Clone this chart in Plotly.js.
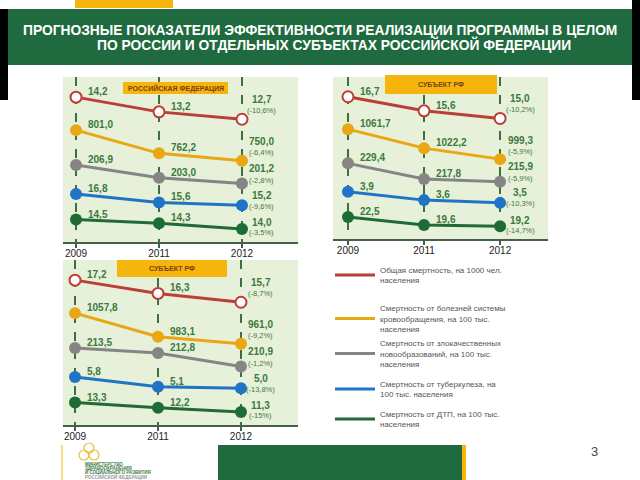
<!DOCTYPE html>
<html><head><meta charset="utf-8">
<script src="https://cdn.plot.ly/plotly-3.0.1.min.js"></script>
<style>html,body{margin:0;padding:0;background:#fff}#chart{width:640px;height:480px}</style>
</head><body><div id="chart"></div>
<script>
// ---------- DATA ----------
const years = ['2009', '2011', '2012'];
const seriesNames = [
  'Общая смертность, на 1000 чел.<br>населения',
  'Смертность от болезней системы<br>кровообращения, на 100 тыс.<br>населения',
  'Смертность от злокачественных<br>новообразований, на 100 тыс.<br>населения',
  'Смертность от туберкулеза, на<br>100 тыс. населения',
  'Смертность от ДТП, на 100 тыс.<br>населения'
];
const panelTitles = ['РОССИЙСКАЯ ФЕДЕРАЦИЯ', 'СУБЪЕКТ РФ', 'СУБЪЕКТ РФ'];

// Panel 1: Российская Федерация
const rfMortality    = [14.2, 13.2, 12.7];
const rfCirculatory  = [801.0, 762.2, 750.0];
const rfCancer       = [206.9, 203.0, 201.2];
const rfTuberculosis = [16.8, 15.6, 15.2];
const rfRoad         = [14.5, 14.3, 14.0];
const rfChange = ['(-10,6%)', '(-6,4%)', '(-2,8%)', '(-9,6%)', '(-3,5%)'];

// Panel 2: Субъект РФ
const s1Mortality    = [16.7, 15.6, 15.0];
const s1Circulatory  = [1061.7, 1022.2, 999.3];
const s1Cancer       = [229.4, 217.8, 215.9];
const s1Tuberculosis = [3.9, 3.6, 3.5];
const s1Road         = [22.5, 19.6, 19.2];
const s1Change = ['(-10,2%)', '(-5,9%)', '(-5,9%)', '(-10,3%)', '(-14,7%)'];

// Panel 3: Субъект РФ
const s2Mortality    = [17.2, 16.3, 15.7];
const s2Circulatory  = [1057.8, 983.1, 961.0];
const s2Cancer       = [213.5, 212.8, 210.9];
const s2Tuberculosis = [5.8, 5.1, 5.0];
const s2Road         = [13.3, 12.2, 11.3];
const s2Change = ['(-8,7%)', '(-9,2%)', '(-1,2%)', '(-13,8%)', '(-15%)'];

// ---------- STYLE / LAYOUT ----------
const W = 640, H = 480;
const FONT = 'Liberation Sans, Arial, sans-serif';
const colors = ['#bb3f37', '#e8a713', '#858585', '#1f74c6', '#1f6b36'];
const labelColor = '#3b7a3f';
const bgPanel = '#e7f0d9';
const green = '#1f6b3f';
const yellow = '#f5b50d';
// vertical band (fraction from top of panel) for max/min of each series
const bands = [[0.122, 0.256], [0.322, 0.507], [0.533, 0.646], [0.709, 0.777], [0.864, 0.921]];
const valueLift = [20, 19, 15, 10, 6];
const pctLift = [9, 8, 3, -1, -4];
// legend item centres (pixels from top)
const legendCentres = [275, 319, 354, 389, 419];

const panels = [
  {data: [rfMortality, rfCirculatory, rfCancer, rfTuberculosis, rfRoad], change: rfChange,
   x0: 63, x1: 298, y0: 77, y1: 242, xr: [-0.157, 2.675], box: [123, 228, 82, 94]},
  {data: [s1Mortality, s1Circulatory, s1Cancer, s1Tuberculosis, s1Road], change: s1Change,
   x0: 333, x1: 548, y0: 77, y1: 239, xr: [-0.197, 2.63], box: [385, 497, 75, 94]},
  {data: [s2Mortality, s2Circulatory, s2Cancer, s2Tuberculosis, s2Road], change: s2Change,
   x0: 63, x1: 298, y0: 260, y1: 425, xr: [-0.145, 2.687], box: [117, 227, 260, 277]}
];

const fmt = v => v.toFixed(1).replace('.', ',');
const px = x => x / W;
const py = y => 1 - y / H;

const traces = [];
const annotations = [];
const shapes = [];
const layout = {
  width: W, height: H, autosize: false,
  margin: {l: 0, r: 0, t: 0, b: 0},
  paper_bgcolor: '#ffffff', plot_bgcolor: bgPanel,
  font: {family: FONT},
  showlegend: true,
  hovermode: false
};
legendCentres.forEach((c, si) => {
  layout[si === 0 ? 'legend' : 'legend' + (si + 1)] = {
    x: px(330), y: py(c), xanchor: 'left', yanchor: 'middle',
    font: {size: 8, color: '#555', family: FONT},
    bgcolor: 'rgba(0,0,0,0)', itemwidth: 40, valign: 'middle'
  };
});

panels.forEach((p, pi) => {
  const xName = pi === 0 ? 'x' : 'x' + (pi + 1);
  const xKey = pi === 0 ? 'xaxis' : 'xaxis' + (pi + 1);
  const baseN = pi * 5 + 1;
  const baseName = baseN === 1 ? 'y' : 'y' + baseN;
  layout[xKey] = {
    domain: [px(p.x0), px(p.x1)], anchor: baseName,
    type: 'category', range: p.xr, fixedrange: true,
    showgrid: true, gridcolor: '#3f6e43', griddash: 'dash', gridwidth: 1.5,
    showline: true, linecolor: '#44604a', linewidth: 2,
    ticks: 'outside', ticklen: 4, tickwidth: 1.5, tickcolor: '#44604a',
    ticklabelstandoff: -3,
    tickfont: {size: 10, color: '#222', family: FONT}, zeroline: false
  };
  p.data.forEach((vals, si) => {
    const n = pi * 5 + si + 1;
    const yName = n === 1 ? 'y' : 'y' + n;
    const yKey = n === 1 ? 'yaxis' : 'yaxis' + n;
    const vmax = Math.max(...vals), vmin = Math.min(...vals);
    const a = 1 - bands[si][0], b = 1 - bands[si][1];
    const k = (a - b) / (vmax - vmin);
    const r0 = vmin - b / k;
    const ax = {range: [r0, r0 + 1 / k], visible: false, showgrid: false, zeroline: false,
                fixedrange: true, anchor: xName};
    if (si === 0) ax.domain = [py(p.y1), py(p.y0)];
    else ax.overlaying = baseName;
    layout[yKey] = ax;

    const open = si === 0;
    // line (carries the legend entry)
    traces.push({
      type: 'scatter', mode: 'lines', x: years, y: vals,
      xaxis: xName, yaxis: yName, name: seriesNames[si],
      legend: si === 0 ? 'legend' : 'legend' + (si + 1),
      showlegend: pi === 0, cliponaxis: false,
      line: {color: colors[si], width: 3}
    });
    // markers
    traces.push({
      type: 'scatter', mode: 'markers', x: years, y: vals,
      xaxis: xName, yaxis: yName, name: seriesNames[si],
      showlegend: false, cliponaxis: false,
      marker: open ? {size: 11, color: '#ffffff', line: {color: colors[si], width: 2}}
                   : {size: 12, color: colors[si], line: {width: 0}}
    });
    vals.forEach((v, i) => {
      if (i < 2) {
        annotations.push({x: i, y: v, xref: xName, yref: yName, showarrow: false,
          xanchor: 'left', yanchor: 'middle', xshift: 10, yshift: 5.5,
          text: '<b>' + fmt(v) + '</b>', font: {size: 10, color: labelColor, family: FONT}});
      } else {
        annotations.push({x: i, y: v, xref: xName, yref: yName, showarrow: false,
          xanchor: 'center', yanchor: 'middle', xshift: 20, yshift: valueLift[si],
          text: '<b>' + fmt(v) + '</b>', font: {size: 10, color: labelColor, family: FONT}});
        annotations.push({x: i, y: v, xref: xName, yref: yName, showarrow: false,
          xanchor: 'center', yanchor: 'middle', xshift: 20, yshift: pctLift[si],
          text: p.change[si], font: {size: 7.5, color: labelColor, family: FONT}});
      }
    });
  });
  // panel title box
  const bx = p.box;
  shapes.push({type: 'rect', xref: 'paper', yref: 'paper', x0: px(bx[0]), x1: px(bx[1]),
    y0: py(bx[3]), y1: py(bx[2]), fillcolor: yellow, line: {width: 0}, layer: 'above'});
  annotations.push({xref: 'paper', yref: 'paper', x: px((bx[0] + bx[1]) / 2), y: py((bx[2] + bx[3]) / 2),
    xanchor: 'center', yanchor: 'middle', showarrow: false, text: '<b>' + panelTitles[pi] + '</b>',
    font: {size: 7, color: '#7a3e10', family: FONT}});
});

// header
shapes.push({type: 'rect', xref: 'paper', yref: 'paper', x0: px(75), x1: px(173), y0: py(8), y1: py(0),
  fillcolor: yellow, line: {width: 0}});
shapes.push({type: 'rect', xref: 'paper', yref: 'paper', x0: px(8), x1: px(632), y0: py(65), y1: py(9),
  fillcolor: green, line: {width: 0}});
shapes.push({type: 'rect', xref: 'paper', yref: 'paper', x0: 0, x1: px(8), y0: py(100), y1: py(9),
  fillcolor: '#000', line: {width: 0}});
shapes.push({type: 'rect', xref: 'paper', yref: 'paper', x0: px(632), x1: 1, y0: py(100), y1: 1,
  fillcolor: '#000', line: {width: 0}});
annotations.push({xref: 'paper', yref: 'paper', x: px(320), y: py(31), xanchor: 'center', yanchor: 'middle',
  showarrow: false, text: '<b>ПРОГНОЗНЫЕ ПОКАЗАТЕЛИ ЭФФЕКТИВНОСТИ РЕАЛИЗАЦИИ ПРОГРАММЫ В ЦЕЛОМ</b>',
  font: {size: 13.8, color: '#fff', family: FONT}});
annotations.push({xref: 'paper', yref: 'paper', x: px(334), y: py(44), xanchor: 'center', yanchor: 'middle',
  showarrow: false, text: '<b>ПО РОССИИ И ОТДЕЛЬНЫХ СУБЪЕКТАХ РОССИЙСКОЙ ФЕДЕРАЦИИ</b>',
  font: {size: 13.8, color: '#fff', family: FONT}});

// footer
shapes.push({type: 'rect', xref: 'paper', yref: 'paper', x0: px(218), x1: px(462), y0: 0, y1: py(445),
  fillcolor: green, line: {width: 0}});
shapes.push({type: 'rect', xref: 'paper', yref: 'paper', x0: px(462), x1: px(466), y0: 0, y1: py(445),
  fillcolor: yellow, line: {width: 0}});
shapes.push({type: 'line', xref: 'paper', yref: 'paper', x0: px(62), x1: px(62), y0: 0, y1: py(445),
  line: {color: yellow, width: 1}});
[[89, 448], [84, 455], [94, 455]].forEach(c => {
  shapes.push({type: 'circle', xref: 'paper', yref: 'paper', x0: px(c[0] - 5), x1: px(c[0] + 5),
    y0: py(c[1] + 5), y1: py(c[1] - 5), line: {color: '#e8c23a', width: 1.2}, fillcolor: 'rgba(0,0,0,0)'});
});
const logoLines = ['МИНИСТЕРСТВО', 'ЗДРАВООХРАНЕНИЯ', 'И СОЦИАЛЬНОГО РАЗВИТИЯ', 'РОССИЙСКОЙ ФЕДЕРАЦИИ'];
logoLines.forEach((t, i) => {
  annotations.push({xref: 'paper', yref: 'paper', x: px(83), y: py(464 + i * 4.3), xanchor: 'left', yanchor: 'middle',
    showarrow: false, text: '<b>' + t + '</b>', font: {size: 4.5, color: i < 3 ? '#3b7a3f' : '#999', family: FONT}});
});
annotations.push({xref: 'paper', yref: 'paper', x: px(594), y: py(451), xanchor: 'center', yanchor: 'middle',
  showarrow: false, text: '3', font: {size: 13, color: '#444', family: FONT}});

layout.shapes = shapes;
layout.annotations = annotations;
Plotly.newPlot('chart', traces, layout, {staticPlot: true, displayModeBar: false});
</script></body></html>
